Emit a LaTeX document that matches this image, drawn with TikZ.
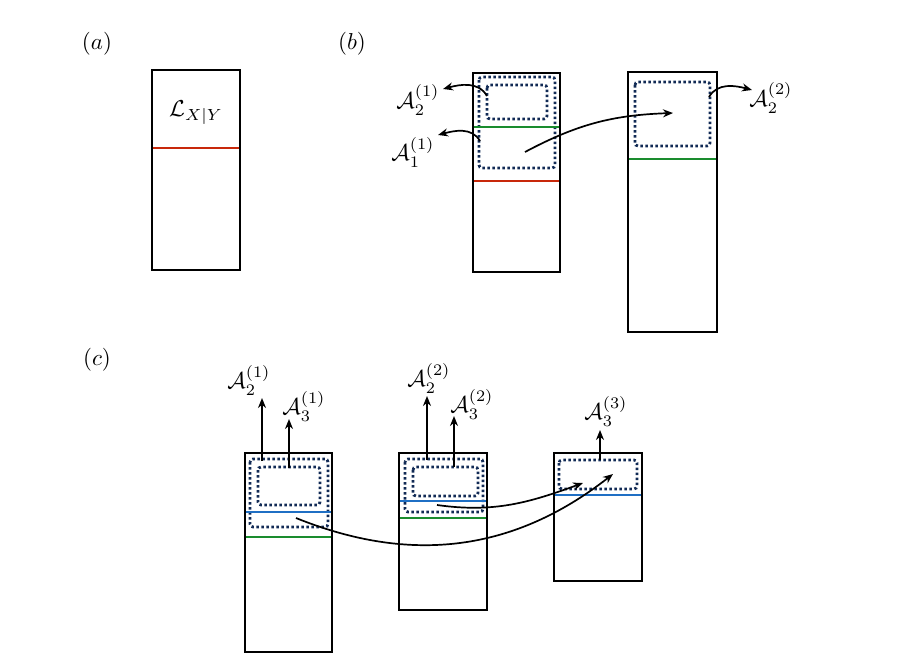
\documentclass[tikz,border=0pt]{standalone}
\usetikzlibrary{arrows.meta}
\definecolor{cred}{HTML}{C8280A}
\definecolor{cgreen}{HTML}{1A8C2E}
\definecolor{cblue}{HTML}{1F6FC4}
\definecolor{cnavy}{HTML}{112A55}
\tikzset{
  boxpart/.style={draw=black,line width=2.6pt},
  sepline/.style={line width=2.8pt},
  dotbox/.style={draw=cnavy,line width=2.8pt,dash pattern=on 2.5pt off 2.5pt,rounded corners=3pt},
  arr/.style={draw=black,line width=1.7pt,-{Stealth[length=10pt,width=8pt]}},
  lab/.style={scale=2.3,inner sep=0pt},
}
\begin{document}
\begin{tikzpicture}[x=1pt,y=-1pt]
\useasboundingbox (0,0) rectangle (913,664);
% labels
\node[lab] (la) at (97,44) {$(a)$};
\node[lab] (lb) at (352,44) {$(b)$};
\node[lab] (lc) at (97,360) {$(c)$};

% ---------- (a)
\draw[boxpart] (152,70) rectangle (240,270);
\draw[sepline,cred] (153,148) -- (239,148);
\node[lab] (L) at (196,113) {$\mathcal{L}_{X|Y}$};

% ---------- (b) box 1
\draw[boxpart] (473,73) rectangle (560,272);
\draw[dotbox] (479,77) rectangle (555,168);
\draw[dotbox] (487,85) rectangle (547,119);
\draw[sepline,cgreen] (474,127) -- (559,127);
\draw[sepline,cred] (474,181) -- (559,181);
\coordinate (b1in) at (487,96);
\coordinate (b1out) at (480,141);
\coordinate (b1mid) at (525,152);
\node[lab] (A21b) at (418,100) {$\mathcal{A}_2^{(1)}$};
\node[lab] (A11b) at (413,152) {$\mathcal{A}_1^{(1)}$};
\draw[arr] (b1in) to[out=120,in=15] (443,89);
\draw[arr] (b1out) to[out=120,in=15] (438,135);

% ---------- (b) box 2
\draw[boxpart] (628,72) rectangle (717,332);
\draw[dotbox] (635,82) rectangle (710,146);
\draw[sepline,cgreen] (629,159) -- (716,159);
\coordinate (b2c) at (673,113);
\coordinate (b2r) at (709,97);
\node[lab] (A22b) at (771,98) {$\mathcal{A}_2^{(2)}$};
\draw[arr] (b1mid) to[out=28,in=182] (b2c);
\draw[arr] (b2r) to[out=60,in=165] (752,90);

% ---------- (c) box 1
\draw[boxpart] (245,453) rectangle (332,652);
\draw[dotbox] (250,459) rectangle (328,527);
\draw[dotbox] (258,467) rectangle (320,505);
\draw[sepline,cblue] (246,512) -- (331,512);
\draw[sepline,cgreen] (246,537) -- (331,537);
\coordinate (c1a) at (262,461);
\coordinate (c1b) at (289,468);
\coordinate (c1m) at (296,518);
\node[lab] (A21c) at (249,380) {$\mathcal{A}_2^{(1)}$};
\node[lab] (A31c) at (304,406) {$\mathcal{A}_3^{(1)}$};
\draw[arr] (c1a) -- (262,398);
\draw[arr] (c1b) -- (289,419);

% ---------- (c) box 2
\draw[boxpart] (399,453) rectangle (487,610);
\draw[dotbox] (405,459) rectangle (483,512);
\draw[dotbox] (413,467) rectangle (478,496);
\draw[sepline,cblue] (400,501) -- (486,501);
\draw[sepline,cgreen] (400,518) -- (486,518);
\coordinate (c2a) at (427,460);
\coordinate (c2b) at (454,467);
\coordinate (c2m) at (437,505);
\node[lab] (A22c) at (429,378) {$\mathcal{A}_2^{(2)}$};
\node[lab] (A32c) at (472,404) {$\mathcal{A}_3^{(2)}$};
\draw[arr] (c2a) -- (427,396);
\draw[arr] (c2b) -- (454,416);

% ---------- (c) box 3
\draw[boxpart] (554,453) rectangle (642,581);
\draw[dotbox] (559,460) rectangle (637,489);
\draw[sepline,cblue] (555,495) -- (641,495);
\coordinate (c3a) at (600,460);
\coordinate (c3p) at (583,483);
\coordinate (c3q) at (613,474);
\node[lab] (A33c) at (606,411) {$\mathcal{A}_3^{(3)}$};
\draw[arr] (c3a) -- (600,430);

% cross-box arrows
\draw[arr] (c2m) to[out=-8,in=200] (c3p);
\draw[arr] (c1m) to[out=-22,in=218] (c3q);
\end{tikzpicture}
\end{document}
